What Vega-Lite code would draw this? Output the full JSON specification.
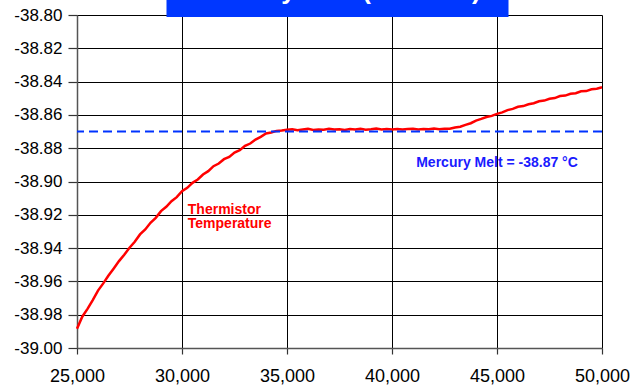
{
  "$schema": "https://vega.github.io/schema/vega-lite/v6.json",
  "autosize": {"type": "none"},
  "width": 525,
  "height": 333,
  "padding": {"left": 77, "top": 15, "right": 28, "bottom": 39},
  "background": "white",
  "config": {
    "view": {"stroke": null},
    "font": "Liberation Sans",
    "axis": {
      "labelFont": "Liberation Sans",
      "labelFontSize": 17,
      "labelColor": "#000000",
      "labelOverlap": false,
      "labelFlush": false,
      "gridColor": "#000000",
      "gridOpacity": 1,
      "gridWidth": 1,
      "domainColor": "#555555",
      "domainWidth": 1.5,
      "tickColor": "#333333",
      "tickWidth": 1.2,
      "title": null
    }
  },
  "datasets": {
    "temp": [
      {"t": 25000, "v": -38.9885},
      {"t": 25250, "v": -38.9812},
      {"t": 25500, "v": -38.9765},
      {"t": 25750, "v": -38.9712},
      {"t": 26000, "v": -38.9655},
      {"t": 26250, "v": -38.9612},
      {"t": 26500, "v": -38.9565},
      {"t": 26750, "v": -38.9522},
      {"t": 27000, "v": -38.9478},
      {"t": 27250, "v": -38.9440},
      {"t": 27500, "v": -38.9398},
      {"t": 27750, "v": -38.9362},
      {"t": 28000, "v": -38.9318},
      {"t": 28250, "v": -38.9288},
      {"t": 28500, "v": -38.9248},
      {"t": 28750, "v": -38.9218},
      {"t": 29000, "v": -38.9178},
      {"t": 29250, "v": -38.9152},
      {"t": 29500, "v": -38.9118},
      {"t": 29750, "v": -38.9094},
      {"t": 30000, "v": -38.9058},
      {"t": 30250, "v": -38.9038},
      {"t": 30500, "v": -38.9008},
      {"t": 30750, "v": -38.8988},
      {"t": 31000, "v": -38.8958},
      {"t": 31250, "v": -38.8938},
      {"t": 31500, "v": -38.8908},
      {"t": 31750, "v": -38.8892},
      {"t": 32000, "v": -38.8866},
      {"t": 32250, "v": -38.8852},
      {"t": 32500, "v": -38.8826},
      {"t": 32750, "v": -38.8812},
      {"t": 33000, "v": -38.8786},
      {"t": 33250, "v": -38.8772},
      {"t": 33500, "v": -38.8748},
      {"t": 33750, "v": -38.8732},
      {"t": 34000, "v": -38.8712},
      {"t": 34250, "v": -38.8706},
      {"t": 34500, "v": -38.8696},
      {"t": 34750, "v": -38.8694},
      {"t": 35000, "v": -38.8689},
      {"t": 35250, "v": -38.8686},
      {"t": 35500, "v": -38.8692},
      {"t": 35750, "v": -38.8688},
      {"t": 36000, "v": -38.8684},
      {"t": 36250, "v": -38.8690},
      {"t": 36500, "v": -38.8687},
      {"t": 36750, "v": -38.8689},
      {"t": 37000, "v": -38.8683},
      {"t": 37250, "v": -38.8688},
      {"t": 37500, "v": -38.8686},
      {"t": 37750, "v": -38.8690},
      {"t": 38000, "v": -38.8685},
      {"t": 38250, "v": -38.8688},
      {"t": 38500, "v": -38.8684},
      {"t": 38750, "v": -38.8689},
      {"t": 39000, "v": -38.8686},
      {"t": 39250, "v": -38.8682},
      {"t": 39500, "v": -38.8688},
      {"t": 39750, "v": -38.8685},
      {"t": 40000, "v": -38.8687},
      {"t": 40250, "v": -38.8684},
      {"t": 40500, "v": -38.8688},
      {"t": 40750, "v": -38.8685},
      {"t": 41000, "v": -38.8683},
      {"t": 41250, "v": -38.8687},
      {"t": 41500, "v": -38.8684},
      {"t": 41750, "v": -38.8686},
      {"t": 42000, "v": -38.8682},
      {"t": 42250, "v": -38.8686},
      {"t": 42500, "v": -38.8683},
      {"t": 42750, "v": -38.8683},
      {"t": 43000, "v": -38.8676},
      {"t": 43250, "v": -38.8671},
      {"t": 43500, "v": -38.8660},
      {"t": 43750, "v": -38.8650},
      {"t": 44000, "v": -38.8634},
      {"t": 44250, "v": -38.8624},
      {"t": 44500, "v": -38.8613},
      {"t": 44750, "v": -38.8606},
      {"t": 45000, "v": -38.8594},
      {"t": 45250, "v": -38.8585},
      {"t": 45500, "v": -38.8571},
      {"t": 45750, "v": -38.8564},
      {"t": 46000, "v": -38.8551},
      {"t": 46250, "v": -38.8547},
      {"t": 46500, "v": -38.8536},
      {"t": 46750, "v": -38.8530},
      {"t": 47000, "v": -38.8518},
      {"t": 47250, "v": -38.8514},
      {"t": 47500, "v": -38.8503},
      {"t": 47750, "v": -38.8499},
      {"t": 48000, "v": -38.8487},
      {"t": 48250, "v": -38.8484},
      {"t": 48500, "v": -38.8473},
      {"t": 48750, "v": -38.8470},
      {"t": 49000, "v": -38.8458},
      {"t": 49250, "v": -38.8457},
      {"t": 49500, "v": -38.8446},
      {"t": 49750, "v": -38.8443},
      {"t": 50000, "v": -38.8434}
    ]
  },
  "layer": [
    {
      "data": {"values": [{"x1": 29262, "x2": 45548, "y1": -38.8012, "y2": -38.76}]},
      "mark": {"type": "rect", "color": "#0037ff", "clip": false},
      "encoding": {
        "x": {"field": "x1", "type": "quantitative", "scale": {"domain": [25000, 50000], "nice": false, "zero": false}},
        "x2": {"field": "x2"},
        "y": {"field": "y1", "type": "quantitative", "scale": {"domain": [-39.0, -38.8], "nice": false, "zero": false}},
        "y2": {"field": "y2"}
      }
    },
    {
      "data": {"values": [{"x": 30600, "y": -38.7903, "label": "Mercury Melt (Detailed)"}]},
      "mark": {"type": "text", "color": "#ffffff", "font": "Liberation Sans", "fontWeight": "bold", "fontSize": 26, "align": "left", "baseline": "alphabetic", "clip": false},
      "encoding": {
        "x": {"field": "x", "type": "quantitative"},
        "y": {"field": "y", "type": "quantitative"},
        "text": {"field": "label"}
      }
    },
    {
      "data": {"name": "temp"},
      "mark": {"type": "line", "color": "#ff0000", "strokeWidth": 2.5},
      "encoding": {
        "x": {
          "field": "t", "type": "quantitative",
          "scale": {"domain": [25000, 50000], "nice": false, "zero": false},
          "axis": {"values": [25000, 30000, 35000, 40000, 45000, 50000], "tickCount": 6, "format": ",d", "labelFontSize": 18, "tickSize": 6, "labelPadding": 13, "grid": true, "domain": true}
        },
        "y": {
          "field": "v", "type": "quantitative",
          "scale": {"domain": [-39.0, -38.8], "nice": false, "zero": false},
          "axis": {"values": [-39.0, -38.98, -38.96, -38.94, -38.92, -38.9, -38.88, -38.86, -38.84, -38.82, -38.8], "tickCount": 11, "labelExpr": "replace(format(datum.value, '.2f'), '\u2212', '-')", "tickSize": 9, "labelPadding": 6, "grid": true, "domain": true}
        }
      }
    },
    {
      "data": {"values": [{"melt": -38.87}]},
      "mark": {"type": "rule", "color": "#0033ff", "strokeWidth": 2, "strokeDash": [9, 5]},
      "encoding": {
        "y": {"field": "melt", "type": "quantitative"}
      }
    },
    {
      "data": {"values": [{"x": 45000, "y": -38.8913, "label": "Mercury Melt = -38.87 °C"}]},
      "mark": {"type": "text", "color": "#1a1aff", "font": "Liberation Sans", "fontWeight": "bold", "fontSize": 14, "align": "center", "baseline": "alphabetic"},
      "encoding": {
        "x": {"field": "x", "type": "quantitative"},
        "y": {"field": "y", "type": "quantitative"},
        "text": {"field": "label"}
      }
    },
    {
      "data": {"values": [{"x": 30276, "y": -38.9196, "label": ["Thermistor", "Temperature"]}]},
      "mark": {"type": "text", "color": "#ff0000", "font": "Liberation Sans", "fontWeight": "bold", "fontSize": 14, "lineHeight": 13.5, "align": "left", "baseline": "alphabetic"},
      "encoding": {
        "x": {"field": "x", "type": "quantitative"},
        "y": {"field": "y", "type": "quantitative"},
        "text": {"field": "label"}
      }
    }
  ]
}
